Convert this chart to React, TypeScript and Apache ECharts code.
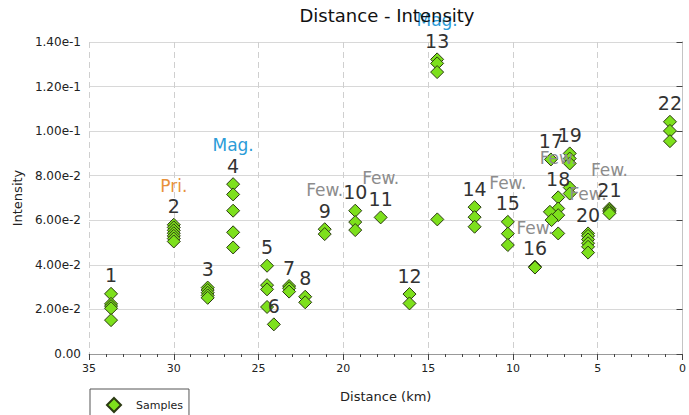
import React, { useEffect, useRef } from "react";
import * as echarts from "echarts";

// Sample groups: [distance (km), intensity]
const group1 = [[33.7, 0.027], [33.7, 0.0225], [33.7, 0.0215], [33.7, 0.0205], [33.7, 0.0152]];
const group2 = [[30.0, 0.058], [30.0, 0.0568], [30.0, 0.0555], [30.0, 0.0542], [30.0, 0.053], [30.0, 0.0518], [30.0, 0.0505]];
const group3 = [[28.0, 0.0298], [28.0, 0.0287], [28.0, 0.0275], [28.0, 0.0263], [28.0, 0.0252]];
const group4 = [[26.5, 0.0762], [26.5, 0.0716], [26.5, 0.0643], [26.5, 0.0546], [26.5, 0.0478]];
const group5 = [[24.5, 0.0396], [24.5, 0.0309], [24.5, 0.029], [24.5, 0.0211]];
const group6 = [[24.1, 0.0133]];
const group7 = [[23.2, 0.0305], [23.2, 0.0295], [23.2, 0.028]];
const group8 = [[22.25, 0.0257], [22.25, 0.0232]];
const group9 = [[21.1, 0.056], [21.1, 0.0538]];
const group10 = [[19.3, 0.0643], [19.3, 0.0592], [19.3, 0.0556]];
const group11 = [[17.8, 0.0613]];
const group12 = [[16.1, 0.0269], [16.1, 0.0227]];
const group13 = [[14.47, 0.1322], [14.47, 0.1304], [14.47, 0.1265], [14.46, 0.0604]];
const group14 = [[12.26, 0.0659], [12.26, 0.0614], [12.26, 0.0571]];
const group15 = [[10.3, 0.0593], [10.3, 0.054], [10.3, 0.0489]];
const group16 = [[8.7, 0.0392], [8.7, 0.0388]];
const group17 = [[7.76, 0.0873]];
const group18 = [[7.33, 0.0703], [7.33, 0.0653], [7.82, 0.0638], [7.33, 0.0623], [7.72, 0.0601], [7.33, 0.0541]];
const group19 = [[6.65, 0.09], [6.65, 0.0877], [6.65, 0.0855], [6.65, 0.0747], [6.65, 0.072]];
const group20 = [[5.57, 0.0541], [5.57, 0.053], [5.57, 0.0514], [5.57, 0.0497], [5.57, 0.0481], [5.57, 0.0455]];
const group21 = [[4.31, 0.0652], [4.31, 0.0645], [4.31, 0.0638], [4.31, 0.0631]];
const group22 = [[0.74, 0.1042], [0.74, 0.1001], [0.74, 0.0955]];

const groups = [
  group1, group2, group3, group4, group5, group6, group7, group8, group9, group10, group11,
  group12, group13, group14, group15, group16, group17, group18, group19, group20, group21, group22,
];
const groupNames = [
  "1", "2", "3", "4", "5", "6", "7", "8", "9", "10", "11",
  "12", "13", "14", "15", "16", "17", "18", "19", "20", "21", "22",
];
// Annotation above each group number ("" = none)
const groupTags = [
  "", "Pri.", "", "Mag.", "", "", "", "", "Few.", "", "Few.",
  "", "Mag.", "", "Few.", "Few.", "", "Few.", "", "Few.", "Few.", "",
];
const tagStyle: Record<string, string> = { "Pri.": "pri", "Mag.": "mag", "Few.": "few" };

const distanceTicks = [0, 35, 5];
const intensityTicks = [0, 0.14, 0.02];

const FONT = "DejaVu Sans";

function buildData() {
  const out: any[] = [];
  groups.forEach((pts, gi) => {
    let top = 0;
    pts.forEach((p, i) => {
      if (p[1] > pts[top][1]) top = i;
    });
    pts.forEach((p, i) => {
      if (i !== top) {
        out.push({ value: p });
        return;
      }
      const tag = groupTags[gi];
      const text = tag
        ? `{${tagStyle[tag]}|${tag}}\n{num|${groupNames[gi]}}`
        : `{num|${groupNames[gi]}}`;
      out.push({
        value: p,
        label: {
          show: true,
          position: "top",
          distance: 1,
          formatter: text,
          rich: {
            num: { fontSize: 19, color: "#333", lineHeight: 21, fontFamily: FONT },
            few: { fontSize: 17, color: "#8c8c8c", lineHeight: 20, fontFamily: FONT },
            pri: { fontSize: 17, color: "#e8913a", lineHeight: 20, fontFamily: FONT },
            mag: { fontSize: 17, color: "#2b9cd8", lineHeight: 20, fontFamily: FONT },
          },
        },
      });
    });
  });
  return out;
}

export default function App() {
  const ref = useRef<HTMLDivElement>(null);

  useEffect(() => {
    document.body.style.margin = "0";
    if (!ref.current) return;
    const chart = echarts.init(ref.current, null, { renderer: "svg" });
    chart.setOption({
      animation: false,
      backgroundColor: "#ffffff",
      textStyle: { fontFamily: FONT },
      title: {
        text: "Distance - Intensity",
        left: 387,
        textAlign: "center",
        top: 6,
        padding: 0,
        textStyle: { fontSize: 18, fontWeight: "normal", color: "#111", fontFamily: FONT },
      },
      grid: { left: 89, right: 3, top: 42, bottom: 61, containLabel: false },
      legend: {
        left: 90,
        top: 389,
        orient: "horizontal",
        borderColor: "#555",
        borderWidth: 1,
        borderRadius: 0,
        padding: [8, 6, 20, 16],
        itemWidth: 14,
        itemHeight: 14,
        textStyle: { fontSize: 11, color: "#222", fontFamily: FONT, padding: [0, 0, 0, 10] },
        data: [{ name: "Samples", icon: "diamond" }],
      },
      xAxis: {
        type: "value",
        inverse: true,
        min: distanceTicks[0],
        max: distanceTicks[1],
        interval: distanceTicks[2],
        name: "Distance (km)",
        nameLocation: "middle",
        nameGap: 36,
        nameTextStyle: { fontSize: 13, color: "#222", fontFamily: FONT },
        axisLine: { show: true, lineStyle: { color: "#999", width: 1 } },
        axisTick: { show: true, length: 6, lineStyle: { color: "#444" } },
        minorTick: { show: true, splitNumber: 5, length: 3, lineStyle: { color: "#444" } },
        axisLabel: { fontSize: 11, color: "#222", margin: 9, fontFamily: FONT },
        splitLine: { show: true, lineStyle: { color: "#cfcfcf", type: [6, 4], width: 1 } },
      },
      yAxis: [
        {
          type: "value",
          min: intensityTicks[0],
          max: intensityTicks[1],
          interval: intensityTicks[2],
          name: "Intensity",
          nameLocation: "middle",
          nameGap: 63,
          nameTextStyle: { fontSize: 13, color: "#222", fontFamily: FONT },
          axisLine: { show: true, lineStyle: { color: "#b5b5b5", width: 1 } },
          axisTick: { show: true, length: 6, lineStyle: { color: "#444" } },
          axisLabel: {
            fontSize: 12,
            color: "#222",
            margin: 8,
            fontFamily: FONT,
            formatter: (v: number) => (v === 0 ? "0.00" : v.toExponential(2)),
          },
          splitLine: { show: true, lineStyle: { color: "#d8d8d8", width: 1 } },
        },
        {
          type: "value",
          position: "right",
          min: intensityTicks[0],
          max: intensityTicks[1],
          interval: intensityTicks[2],
          axisLine: { show: true, lineStyle: { color: "#c4c4c4", width: 1 } },
          axisTick: { show: false },
          axisLabel: { show: false },
          splitLine: { show: false },
        },
      ],
      series: [
        {
          name: "Samples",
          type: "scatter",
          symbol: "diamond",
          symbolSize: 13,
          itemStyle: { color: "#7de01c", borderColor: "#2b3a12", borderWidth: 1, opacity: 1 },
          emphasis: { disabled: true },
          data: buildData(),
        },
      ],
    });
    return () => chart.dispose();
  }, []);

  return <div ref={ref} style={{ width: 689, height: 415 }} />;
}
